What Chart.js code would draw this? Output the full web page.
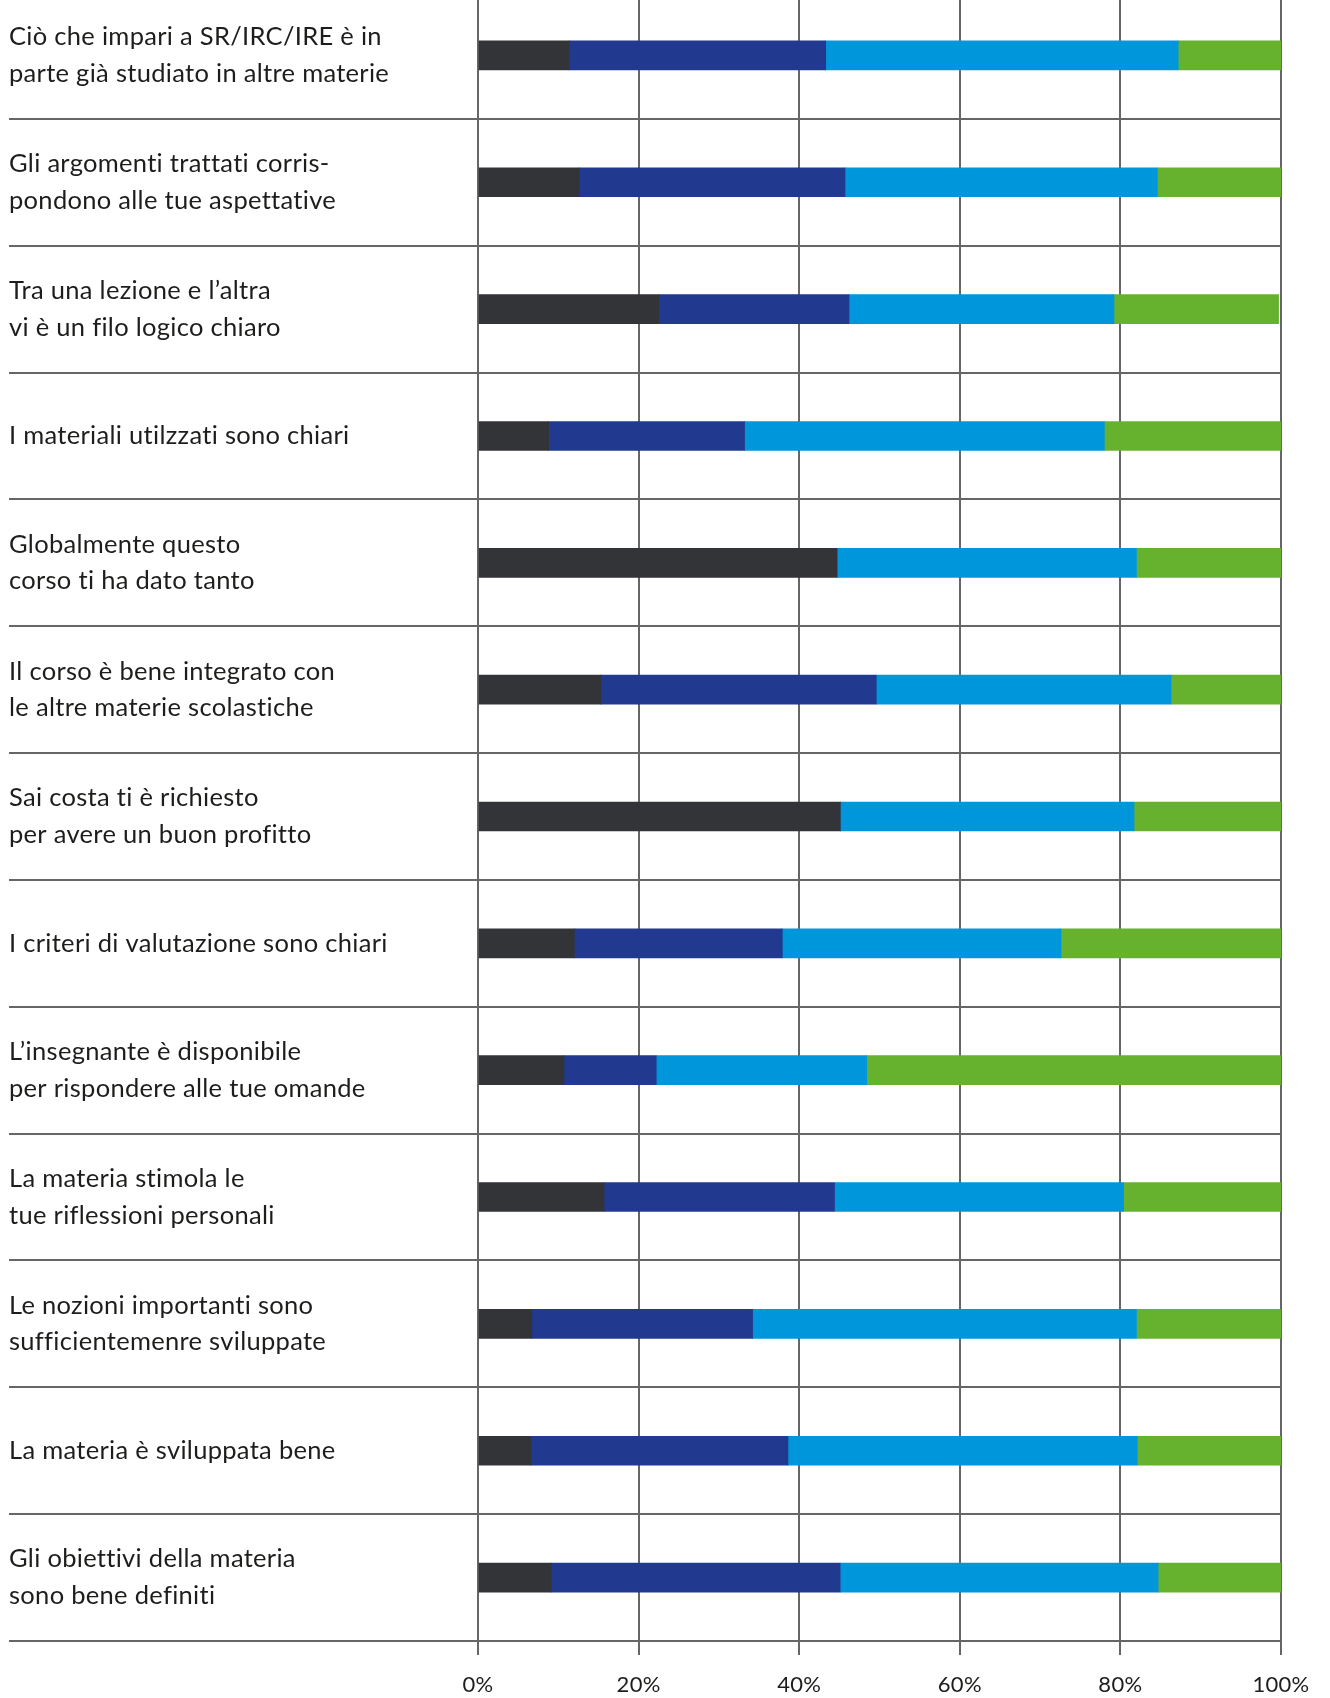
<!DOCTYPE html>
<html>
<head>
<meta charset="utf-8">
<script src="https://cdn.jsdelivr.net/npm/chart.js@4/dist/chart.umd.min.js"></script>
<style>
  html, body { margin: 0; padding: 0; background: #ffffff; overflow: hidden; }
  #wrap { width: 1330px; height: 1698px; position: relative; overflow: hidden; }
  #c { display: block; margin-top: -8px; }
</style>
</head>
<body>
<div id="wrap"><canvas id="c" width="1330" height="1706"></canvas></div>
<script>
// ---- data ----
const categories = [
  ["Ciò che impari a SR/IRC/IRE è in", "parte già studiato in altre materie"],
  ["Gli argomenti trattati corris-", "pondono alle tue aspettative"],
  ["Tra una lezione e l’altra", "vi è un filo logico chiaro"],
  "I materiali utilzzati sono chiari",
  ["Globalmente questo", "corso ti ha dato tanto"],
  ["Il corso è bene integrato con", "le altre materie scolastiche"],
  ["Sai costa ti è richiesto", "per avere un buon profitto"],
  "I criteri di valutazione sono chiari",
  ["L’insegnante è disponibile", "per rispondere alle tue omande"],
  ["La materia stimola le", "tue riflessioni personali"],
  ["Le nozioni importanti sono", "sufficientemenre sviluppate"],
  "La materia è sviluppata bene",
  ["Gli obiettivi della materia", "sono bene definiti"]
];
const seriesNames = ["Serie 1", "Serie 2", "Serie 3", "Serie 4"];
const series1 = [11.4, 12.6, 22.6, 8.8, 44.7, 15.3, 45.1, 12.0, 10.7, 15.7, 6.7, 6.6, 9.1];
const series2 = [31.9, 33.1, 23.6, 24.4, 0, 34.3, 0, 25.9, 11.5, 28.7, 27.5, 32.0, 36.0];
const series3 = [43.9, 38.9, 33.0, 44.8, 37.3, 36.7, 36.6, 34.7, 26.2, 36.0, 47.8, 43.5, 39.6];
const series4 = [12.8, 15.4, 20.5, 22.0, 18.0, 13.7, 18.3, 27.4, 51.6, 19.6, 18.0, 17.9, 15.3];
const tickLabels = ["0%", "20%", "40%", "60%", "80%", "100%"];

// ---- styles ----
const colors = ["#333438", "#213a8f", "#0096db", "#66b22e"];
const lineColor = "#666666";
const textColor = "#1d1d1b";

const allSeries = [series1, series2, series3, series4];

// small letter spacing (also turns off Lato's "ti" ligature)
const spacingPlugin = {
  id: "spacing",
  beforeDraw(chart) { chart.ctx.letterSpacing = "0.3px"; }
};

new Chart(document.getElementById("c"), {
  type: "bar",
  data: {
    labels: categories,
    datasets: allSeries.map((vals, i) => ({
      label: seriesNames[i],
      data: vals,
      backgroundColor: colors[i],
      borderWidth: 0,
      barThickness: 29
    }))
  },
  plugins: [spacingPlugin],
  options: {
    indexAxis: "y",
    responsive: false,
    devicePixelRatio: 1,
    animation: false,
    layout: { padding: { left: 9, right: 49, top: 0, bottom: 0 } },
    plugins: { legend: { display: false }, tooltip: { enabled: false } },
    scales: {
      x: {
        stacked: true,
        min: 0,
        max: 100,
        border: { display: false },
        grid: { color: lineColor, lineWidth: 2, tickLength: 14, drawTicks: true },
        ticks: {
          stepSize: 20,
          padding: 17,
          color: textColor,
          font: { family: "Lato", size: 22, lineHeight: 1.2 },
          callback: (v, i) => tickLabels[i]
        },
        afterFit: (s) => { s.height = 57; }
      },
      y: {
        stacked: true,
        border: { display: false },
        grid: {
          offset: true,
          lineWidth: 2,
          tickLength: 469,
          color: (ctx) => (ctx.index === 0 ? "rgba(0,0,0,0)" : lineColor)
        },
        ticks: {
          autoSkip: false,
          crossAlign: "far",
          color: textColor,
          font: { family: "Lato", size: 25.5, lineHeight: 1.44 }
        },
        afterFit: (s) => { s.width = 469; s.paddingTop = 0; s.paddingBottom = 0; }
      }
    }
  }
});
</script>
</body>
</html>
